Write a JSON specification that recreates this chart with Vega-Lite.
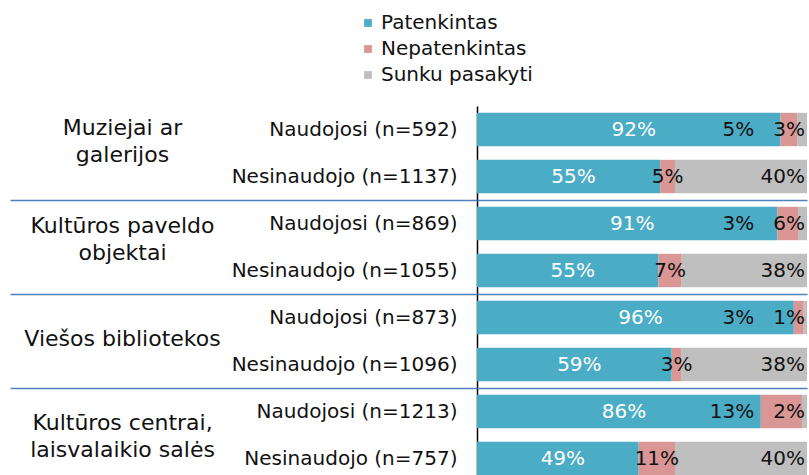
{
  "$schema": "https://vega.github.io/schema/vega-lite/v6.json",
  "width": 330,
  "height": 376,
  "autosize": {"type": "none"},
  "padding": {"left": 477, "top": 106, "right": 2, "bottom": -7},
  "config": {"font": "DejaVu Sans", "view": {"stroke": null}},
  "data": {
    "values": [
      {"grp": "Muziejai ar|galerijos", "sub": "Naudojosi (n=592)", "cat": "Patenkintas", "k": 1, "value": 92, "label": "92%"},
      {"grp": "Muziejai ar|galerijos", "sub": "Naudojosi (n=592)", "cat": "Nepatenkintas", "k": 2, "value": 5, "label": "5%"},
      {"grp": "Muziejai ar|galerijos", "sub": "Naudojosi (n=592)", "cat": "Sunku pasakyti", "k": 3, "value": 3, "label": "3%"},
      {"grp": "Muziejai ar|galerijos", "sub": "Nesinaudojo (n=1137)", "cat": "Patenkintas", "k": 1, "value": 55.5, "label": "55%"},
      {"grp": "Muziejai ar|galerijos", "sub": "Nesinaudojo (n=1137)", "cat": "Nepatenkintas", "k": 2, "value": 4.5, "label": "5%"},
      {"grp": "Muziejai ar|galerijos", "sub": "Nesinaudojo (n=1137)", "cat": "Sunku pasakyti", "k": 3, "value": 40, "label": "40%"},
      {"grp": "Kultūros paveldo|objektai", "sub": "Naudojosi (n=869)", "cat": "Patenkintas", "k": 1, "value": 91, "label": "91%"},
      {"grp": "Kultūros paveldo|objektai", "sub": "Naudojosi (n=869)", "cat": "Nepatenkintas", "k": 2, "value": 6.5, "label": "3%"},
      {"grp": "Kultūros paveldo|objektai", "sub": "Naudojosi (n=869)", "cat": "Sunku pasakyti", "k": 3, "value": 2.5, "label": "6%"},
      {"grp": "Kultūros paveldo|objektai", "sub": "Nesinaudojo (n=1055)", "cat": "Patenkintas", "k": 1, "value": 55, "label": "55%"},
      {"grp": "Kultūros paveldo|objektai", "sub": "Nesinaudojo (n=1055)", "cat": "Nepatenkintas", "k": 2, "value": 7, "label": "7%"},
      {"grp": "Kultūros paveldo|objektai", "sub": "Nesinaudojo (n=1055)", "cat": "Sunku pasakyti", "k": 3, "value": 38, "label": "38%"},
      {"grp": "Viešos bibliotekos", "sub": "Naudojosi (n=873)", "cat": "Patenkintas", "k": 1, "value": 96, "label": "96%"},
      {"grp": "Viešos bibliotekos", "sub": "Naudojosi (n=873)", "cat": "Nepatenkintas", "k": 2, "value": 3, "label": "3%"},
      {"grp": "Viešos bibliotekos", "sub": "Naudojosi (n=873)", "cat": "Sunku pasakyti", "k": 3, "value": 1, "label": "1%"},
      {"grp": "Viešos bibliotekos", "sub": "Nesinaudojo (n=1096)", "cat": "Patenkintas", "k": 1, "value": 59, "label": "59%"},
      {"grp": "Viešos bibliotekos", "sub": "Nesinaudojo (n=1096)", "cat": "Nepatenkintas", "k": 2, "value": 3, "label": "3%"},
      {"grp": "Viešos bibliotekos", "sub": "Nesinaudojo (n=1096)", "cat": "Sunku pasakyti", "k": 3, "value": 38, "label": "38%"},
      {"grp": "Kultūros centrai,|laisvalaikio salės", "sub": "Naudojosi (n=1213)", "cat": "Patenkintas", "k": 1, "value": 86, "label": "86%"},
      {"grp": "Kultūros centrai,|laisvalaikio salės", "sub": "Naudojosi (n=1213)", "cat": "Nepatenkintas", "k": 2, "value": 12.5, "label": "13%"},
      {"grp": "Kultūros centrai,|laisvalaikio salės", "sub": "Naudojosi (n=1213)", "cat": "Sunku pasakyti", "k": 3, "value": 1.5, "label": "2%"},
      {"grp": "Kultūros centrai,|laisvalaikio salės", "sub": "Nesinaudojo (n=757)", "cat": "Patenkintas", "k": 1, "value": 49, "label": "49%"},
      {"grp": "Kultūros centrai,|laisvalaikio salės", "sub": "Nesinaudojo (n=757)", "cat": "Nepatenkintas", "k": 2, "value": 11, "label": "11%"},
      {"grp": "Kultūros centrai,|laisvalaikio salės", "sub": "Nesinaudojo (n=757)", "cat": "Sunku pasakyti", "k": 3, "value": 40, "label": "40%"}
    ]
  },
  "resolve": {"scale": {"y": "independent"}, "axis": {"y": "independent"}},
  "layer": [
    {
      "encoding": {
        "y": {
          "field": "sub",
          "type": "nominal",
          "scale": {
            "domain": ["Naudojosi (n=592)", "Nesinaudojo (n=1137)", "Naudojosi (n=869)", "Nesinaudojo (n=1055)", "Naudojosi (n=873)", "Nesinaudojo (n=1096)", "Naudojosi (n=1213)", "Nesinaudojo (n=757)"],
            "paddingInner": 0.29,
            "paddingOuter": 0.145
          },
          "axis": {
            "title": null,
            "orient": "left",
            "domain": true,
            "domainColor": "#000000",
            "domainWidth": 1.5,
            "ticks": false,
            "grid": false,
            "labelPadding": 20,
            "labelFont": "DejaVu Sans",
            "labelFontSize": 20,
            "labelColor": "#111111",
            "labelLimit": 400
          }
        }
      },
      "layer": [
        {
          "mark": {"type": "bar"},
          "encoding": {
            "x": {"field": "value", "type": "quantitative", "stack": "zero", "scale": {"domain": [0, 100], "nice": false}, "axis": null},
            "color": {
              "field": "cat",
              "type": "nominal",
              "scale": {"domain": ["Patenkintas", "Nepatenkintas", "Sunku pasakyti"], "range": ["#4bacc6", "#d99694", "#bfbfbf"]},
              "legend": {
                "title": null,
                "orient": "none",
                "legendX": -119,
                "legendY": -93,
                "symbolType": "square",
                "symbolSize": 60,
                "symbolStrokeWidth": 0,
                "labelFont": "DejaVu Sans",
                "labelFontSize": 20,
                "labelColor": "#111111",
                "labelOffset": 3,
                "rowPadding": 6,
                "padding": 0
              }
            },
            "order": {"field": "k", "type": "quantitative"}
          }
        },
        {
          "mark": {"type": "text", "fontSize": 20, "baseline": "middle", "align": "center", "dx": 5, "color": "#ffffff"},
          "encoding": {
            "x": {"field": "value", "type": "quantitative", "stack": "zero", "bandPosition": 0.5},
            "detail": {"field": "cat"},
            "order": {"field": "k", "type": "quantitative"},
            "text": {"condition": {"test": "datum.cat === 'Patenkintas'", "field": "label"}, "value": ""}
          }
        },
        {
          "mark": {"type": "text", "fontSize": 20, "baseline": "middle", "align": "center", "color": "#111111"},
          "encoding": {
            "x": {"field": "value", "type": "quantitative", "stack": "zero", "bandPosition": 0.5},
            "detail": {"field": "cat"},
            "order": {"field": "k", "type": "quantitative"},
            "text": {"condition": {"test": "datum.cat === 'Nepatenkintas' && indexof(datum.sub, 'Nesinaudojo') === 0", "field": "label"}, "value": ""}
          }
        },
        {
          "mark": {"type": "text", "fontSize": 20, "baseline": "middle", "align": "right", "color": "#111111"},
          "encoding": {
            "x": {"datum": 84},
            "text": {"condition": {"test": "datum.cat === 'Nepatenkintas' && indexof(datum.sub, 'Naudojosi') === 0", "field": "label"}, "value": ""}
          }
        },
        {
          "mark": {"type": "text", "fontSize": 20, "baseline": "middle", "align": "right", "dx": -2, "color": "#111111"},
          "encoding": {
            "x": {"field": "value", "type": "quantitative", "stack": "zero", "bandPosition": 1},
            "detail": {"field": "cat"},
            "order": {"field": "k", "type": "quantitative"},
            "text": {"condition": {"test": "datum.cat === 'Sunku pasakyti'", "field": "label"}, "value": ""}
          }
        }
      ]
    },
    {
      "mark": {"type": "rect", "opacity": 0},
      "encoding": {
        "y": {
          "field": "grp",
          "type": "nominal",
          "scale": {
            "domain": ["Muziejai ar|galerijos", "Kultūros paveldo|objektai", "Viešos bibliotekos", "Kultūros centrai,|laisvalaikio salės"],
            "paddingInner": 0,
            "paddingOuter": 0
          },
          "axis": {
            "title": null,
            "orient": "left",
            "domain": false,
            "ticks": true,
            "tickBand": "extent",
            "tickSize": 467,
            "tickWidth": 1.5,
            "tickColor": {"condition": {"test": "datum.extra", "value": "transparent"}, "value": "#4f81bd"},
            "grid": true,
            "gridWidth": 1.5,
            "gridColor": {"condition": {"test": "datum.extra", "value": "transparent"}, "value": "#4f81bd"},
            "labelAlign": "center",
            "labelBaseline": "middle",
            "labelPadding": -112,
            "labelOffset": {
              "condition": [
                {"test": "datum.value === 'Muziejai ar|galerijos'", "value": -26},
                {"test": "datum.value === 'Kultūros paveldo|objektai'", "value": -22},
                {"test": "datum.value === 'Kultūros centrai,|laisvalaikio salės'", "value": -13}
              ],
              "value": -3
            },
            "labelExpr": "split(datum.label, '|')",
            "labelFont": "DejaVu Sans",
            "labelFontSize": 22,
            "labelLineHeight": 27,
            "labelColor": "#111111",
            "labelLimit": 400
          }
        }
      }
    }
  ]
}
